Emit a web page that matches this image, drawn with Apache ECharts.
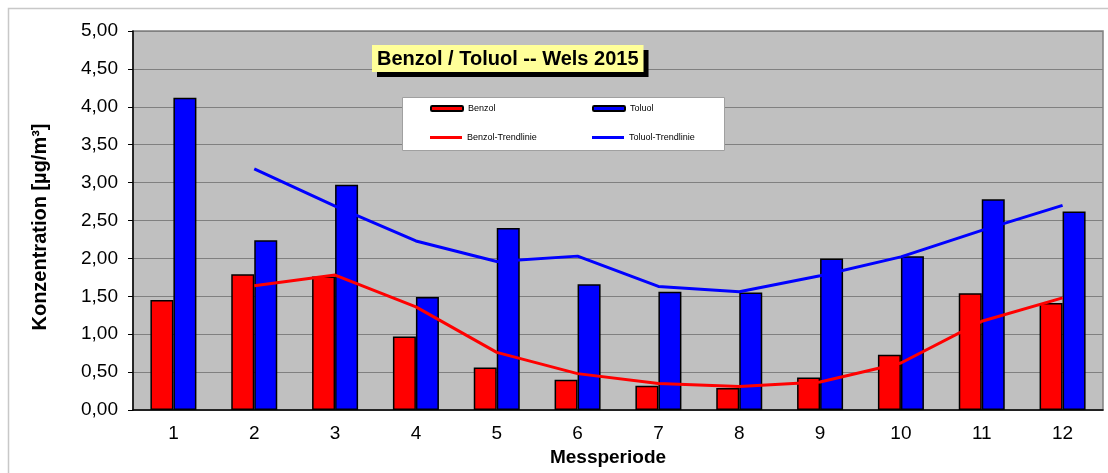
<!DOCTYPE html>
<html>
<head>
<meta charset="utf-8">
<script src="https://cdn.jsdelivr.net/npm/echarts@6/dist/echarts.min.js"></script>
<style>
  html, body { margin: 0; padding: 0; background: #fff; }
  #chart { width: 1108px; height: 473px; }
</style>
</head>
<body>
<div id="chart"></div>
<script>
var perioden = ['1', '2', '3', '4', '5', '6', '7', '8', '9', '10', '11', '12'];
var benzol = [1.45, 1.79, 1.76, 0.97, 0.56, 0.40, 0.32, 0.29, 0.43, 0.73, 1.54, 1.41];
var toluol = [4.12, 2.24, 2.97, 1.49, 2.40, 1.66, 1.56, 1.55, 2.00, 2.03, 2.78, 2.62];
var benzolTrend = ['-', 1.64, 1.78, 1.36, 0.76, 0.48, 0.35, 0.31, 0.37, 0.62, 1.17, 1.48];
var toluolTrend = ['-', 3.18, 2.69, 2.23, 1.96, 2.03, 1.63, 1.56, 1.77, 2.02, 2.37, 2.70];
var yTicks = [0, 0.5, 1, 1.5, 2, 2.5, 3, 3.5, 4, 4.5, 5];

var FONT = '"Liberation Sans", Arial, sans-serif';
var chart = echarts.init(document.getElementById('chart'));

function fmt(v) { return v.toFixed(2).replace('.', ','); }

var legendText = { fontSize: 9, color: '#000', fontFamily: FONT };

var option = {
    animation: false,
    backgroundColor: '#fff',
    title: {
        text: 'Benzol / Toluol -- Wels 2015',
        left: 372,
        top: 45,
        padding: [4, 5, 3, 5],
        backgroundColor: '#FFFF99',
        shadowColor: '#000',
        shadowBlur: 0,
        shadowOffsetX: 5,
        shadowOffsetY: 5,
        textStyle: { fontSize: 20, fontWeight: 'bold', color: '#000', fontFamily: FONT }
    },
    graphic: [
        {
            type: 'rect', z: 0, silent: true,
            shape: { x: 8.5, y: 8.5, width: 1300, height: 600 },
            style: { fill: 'none', stroke: '#c8c8c8', lineWidth: 1.5 }
        },
        {
            type: 'rect', z: 3, silent: true,
            shape: { x: 402.5, y: 97.5, width: 322, height: 53 },
            style: { fill: '#fff', stroke: '#a0a0a0', lineWidth: 1 }
        }
    ],
    legend: [
        { data: ['Benzol'], left: 430, top: 104, itemWidth: 32, itemHeight: 5, padding: 0, textStyle: legendText },
        { data: ['Toluol'], left: 592, top: 104, itemWidth: 32, itemHeight: 5, padding: 0, textStyle: legendText },
        { data: [{ name: 'Benzol-Trendlinie', icon: 'rect' }], left: 430, top: 133, itemWidth: 32, itemHeight: 3, padding: 0, textStyle: legendText },
        { data: [{ name: 'Toluol-Trendlinie', icon: 'rect' }], left: 592, top: 133, itemWidth: 32, itemHeight: 3, padding: 0, textStyle: legendText }
    ],
    grid: {
        left: 133, right: 5, top: 31, bottom: 63,
        show: true,
        backgroundColor: '#C0C0C0',
        borderColor: '#808080',
        borderWidth: 1.5
    },
    xAxis: {
        type: 'category',
        data: perioden,
        name: 'Messperiode',
        nameLocation: 'middle',
        nameGap: 29,
        nameTextStyle: { fontSize: 19, fontWeight: 'bold', color: '#000', fontFamily: FONT, padding: [0, 20, 0, 0] },
        axisLine: { lineStyle: { color: '#000', width: 1.5 } },
        axisTick: { length: 5, lineStyle: { color: '#000' } },
        axisLabel: { fontSize: 19, color: '#000', margin: 14, fontFamily: FONT },
        splitLine: { show: false }
    },
    yAxis: {
        type: 'value',
        min: yTicks[0],
        max: yTicks[yTicks.length - 1],
        interval: 0.5,
        name: 'Konzentration [µg/m³]',
        nameLocation: 'middle',
        nameRotate: 90,
        nameGap: 83,
        nameTextStyle: { fontSize: 20, fontWeight: 'bold', color: '#000', fontFamily: FONT, padding: [0, 13, 0, 0] },
        axisLine: { show: true, lineStyle: { color: '#000', width: 1.5 } },
        axisTick: { show: true, length: 5, lineStyle: { color: '#000' } },
        axisLabel: { fontSize: 19, color: '#000', margin: 15, fontFamily: FONT, formatter: fmt },
        splitLine: { lineStyle: { color: '#808080', width: 1 } }
    },
    series: [
        {
            name: 'Benzol', type: 'bar', data: benzol,
            barWidth: 23, barGap: '0%',
            itemStyle: { color: '#FF0000', borderColor: '#000', borderWidth: 1.5 }
        },
        {
            name: 'Toluol', type: 'bar', data: toluol,
            barWidth: 23, barGap: '0%',
            itemStyle: { color: '#0000FF', borderColor: '#000', borderWidth: 1.5 }
        },
        {
            name: 'Benzol-Trendlinie', type: 'line', data: benzolTrend,
            symbol: 'none', z: 4,
            lineStyle: { color: '#FF0000', width: 3 },
            itemStyle: { color: '#FF0000' }
        },
        {
            name: 'Toluol-Trendlinie', type: 'line', data: toluolTrend,
            symbol: 'none', z: 4,
            lineStyle: { color: '#0000FF', width: 3 },
            itemStyle: { color: '#0000FF' }
        }
    ]
};

chart.setOption(option);
</script>
</body>
</html>
